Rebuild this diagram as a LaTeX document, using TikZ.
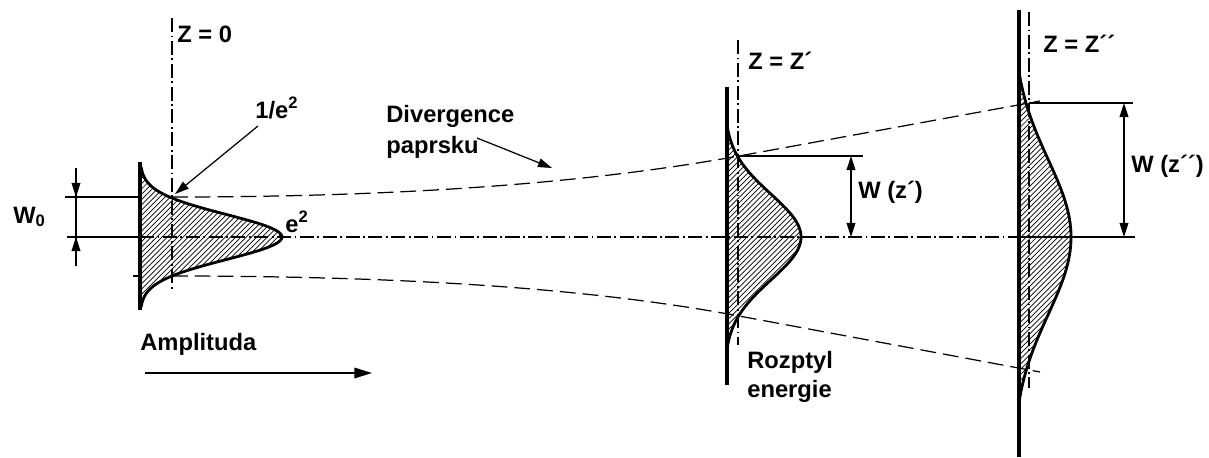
\documentclass[tikz,border=0pt]{standalone}
\usepackage{fontspec}
\setmainfont{Liberation Sans}
\usetikzlibrary{arrows.meta,patterns}
\begin{document}
\begin{tikzpicture}[x=0.02cm,y=-0.02cm,
  lbl/.style={font=\bfseries\fontsize{13.5}{16}\selectfont, inner sep=0pt, anchor=base west},
  fine/.style={line width=0.6pt},
  dashdot/.style={line width=0.6pt, dash pattern=on 8pt off 2pt on 1pt off 2pt},
  beam/.style={line width=0.7pt, dash pattern=on 9pt off 4pt},
  basebar/.style={line width=2.2pt},
  prof/.style={line width=1.6pt},
  hatch/.style={pattern=north east lines},
  arr/.style={-{Triangle[length=8pt,width=5pt]}, line width=0.7pt},
  dimarr/.style={{Triangle[length=8pt,width=5pt]}-{Triangle[length=8pt,width=5pt]}, line width=0.7pt},
  bigarr/.style={-{Triangle[length=10pt,width=6pt]}, line width=0.8pt}
]
\useasboundingbox (0,0) rectangle (1209,457);

% profile functions (t = offset from axis in px)
\def\profA{140+142*exp(-(\t/10)*(\t/10)/10.2)}
\def\profB{727+74*(exp(-(\t/100)*(\t/100)/0.3694)-0.0335)/0.9665}
\def\profC{1019+52*(exp(-(\t/100)*(\t/100)/1.2)-0.1034)/0.8966}

% ---------- hatched profiles ----------
\fill[hatch] (140,167) -- plot[domain=-70:70,samples=80,smooth,variable=\t] ({\profA},{237+\t}) -- cycle;
\fill[hatch] (727,125) -- plot[domain=-112:112,samples=90,smooth,variable=\t] ({\profB},{237+\t}) -- cycle;
\fill[hatch] (1019,72) -- plot[domain=-165:165,samples=110,smooth,variable=\t] ({\profC},{237+\t}) -- cycle;

% ---------- beam envelope ----------
\coordinate (t0) at (172,197);
\coordinate (t1) at (739,156);
\coordinate (t2) at (1040,101);
\coordinate (b0) at (172,276);
\coordinate (b1) at (739,316);
\coordinate (b2) at (1040,372);
\coordinate (bs) at (133,276);
\coordinate (bse) at (141,276);
\draw[beam] (t0) .. controls (420,197) and (600,181) .. (t1) -- (t2);
\draw[beam] (b0) .. controls (420,276) and (600,290) .. (b1) -- (b2);
\draw[fine] (bs) -- (bse);

% ---------- optical axis ----------
\coordinate (a0) at (67,237);
\coordinate (a1) at (140,237);
\coordinate (a2) at (1019,237);
\coordinate (a3) at (1135,237);
\draw[fine] (a0) -- (a1);
\draw[dashdot] (a1) -- (a2);
\draw[fine] (a2) -- (a3);

% ---------- vertical planes ----------
\coordinate (v1a) at (172,18);   \coordinate (v1b) at (172,290);
\coordinate (v2a) at (738,40);   \coordinate (v2b) at (738,345);
\coordinate (v3a) at (1029,12);  \coordinate (v3b) at (1029,388);
\draw[dashdot] (v1a) -- (v1b);
\draw[dashdot] (v2a) -- (v2b);
\draw[dashdot] (v3a) -- (v3b);

% ---------- profile curves and bases ----------
\draw[prof] plot[domain=-70:70,samples=80,smooth,variable=\t] ({\profA},{237+\t});
\draw[prof] plot[domain=-112:112,samples=90,smooth,variable=\t] ({\profB},{237+\t});
\draw[prof] plot[domain=-165:165,samples=110,smooth,variable=\t] ({\profC},{237+\t});
\coordinate (p1a) at (140,162);  \coordinate (p1b) at (140,310);
\coordinate (p2a) at (727,87);   \coordinate (p2b) at (727,385);
\coordinate (p3a) at (1019,10);  \coordinate (p3b) at (1019,457);
\draw[basebar] (p1a) -- (p1b);
\draw[basebar] (p2a) -- (p2b);
\draw[basebar] (p3a) -- (p3b);

% ---------- W0 dimension ----------
\coordinate (w0a) at (65,197);  \coordinate (w0b) at (140,197);
\coordinate (w0t) at (76,168);  \coordinate (w0u) at (76,197);
\coordinate (w0d) at (76,266);  \coordinate (w0e) at (76,237);
\draw[fine] (w0a) -- (w0b);
\draw[fine] (w0t) -- (w0d);
\draw[arr] (w0t) -- (w0u);
\draw[arr] (w0d) -- (w0e);

% ---------- W(z') dimension ----------
\coordinate (d2a) at (739,156); \coordinate (d2b) at (863,156);
\coordinate (d2u) at (851,156); \coordinate (d2l) at (851,237);
\draw[fine] (d2a) -- (d2b);
\draw[dimarr] (d2u) -- (d2l);

% ---------- W(z'') dimension ----------
\coordinate (d3a) at (1029,103); \coordinate (d3b) at (1133,103);
\coordinate (d3u) at (1124,103); \coordinate (d3l) at (1124,237);
\draw[fine] (d3a) -- (d3b);
\draw[dimarr] (d3u) -- (d3l);

% ---------- labels ----------
\node[lbl] (lz0) at (177,42) {Z = 0};
\node[lbl] (le1) at (255,118) {1/e\textsuperscript{2}};
\node[lbl] (le2) at (285,232) {e\textsuperscript{2}};
\node[lbl] (lw0) at (13,223) {W\textsubscript{0}};
\node[lbl] (ldiv) at (386,122) {Divergence};
\node[lbl] (lpap) at (386,153) {paprsku};
\node[lbl] (lamp) at (140,350) {Amplituda};
\node[lbl] (lz1) at (748,69) {Z = Z´};
\node[lbl] (lw1) at (858,198) {W (z´)};
\node[lbl] (lroz) at (747,368) {Rozptyl};
\node[lbl] (lene) at (747,397) {energie};
\node[lbl] (lz2) at (1043,52) {Z = Z´´};
\node[lbl] (lw2) at (1131,172) {W (z´´)};

% ---------- pointer arrows ----------
\coordinate (e1s) at (258,126); \coordinate (e1e) at (175,194);
\coordinate (dvs) at (477,138); \coordinate (dve) at (552,168);
\coordinate (ams) at (145,373); \coordinate (ame) at (372,373);
\draw[arr] (e1s) -- (e1e);
\draw[arr] (dvs) -- (dve);
\draw[bigarr] (ams) -- (ame);
\end{tikzpicture}
\end{document}
